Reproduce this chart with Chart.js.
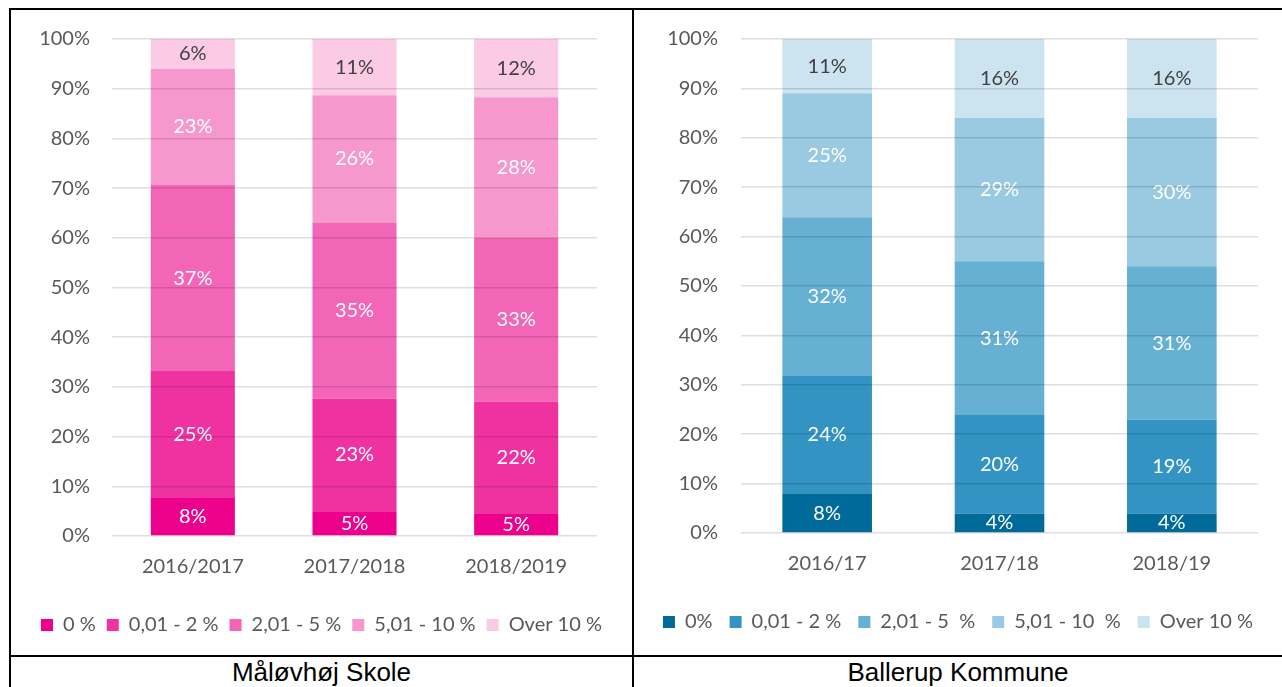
<!DOCTYPE html>
<html lang="da">
<head>
<meta charset="UTF-8">
<title>Fravær - Måløvhøj Skole og Ballerup Kommune</title>
<script src="https://cdn.jsdelivr.net/npm/chart.js"></script>
<style>
    body {
        margin: 0;
        width: 1282px;
        height: 687px;
        overflow: hidden;
        background: #fff;
        position: relative;
        font-family: "Liberation Sans", Arial, sans-serif;
    }
    .line {
        position: absolute;
        background: #000;
    }
    .box {
        position: absolute;
    }
    .caption {
        position: absolute;
        top: 657px;
        font-size: 26px;
        text-align: center;
        color: #000;
    }
</style>
</head>
<body>
<div class="line" style="left:9px; top:8px; width:1273px; height:2px;"></div>
<div class="line" style="left:9px; top:8px; width:2px; height:679px;"></div>
<div class="line" style="left:632px; top:8px; width:2px; height:679px;"></div>
<div class="line" style="left:9px; top:655px; width:1273px; height:2px;"></div>

<div class="box" style="left:11px; top:10px; width:621px; height:645px;"><canvas id="skole"></canvas></div>
<div class="box" style="left:634px; top:10px; width:648px; height:645px;"><canvas id="kommune"></canvas></div>

<div class="caption" style="left:11px; width:621px;">Måløvhøj Skole</div>
<div class="caption" style="left:634px; width:648px;">Ballerup Kommune</div>

<script>
// Måløvhøj Skole
const skoleYears = ['2016/2017', '2017/2018', '2018/2019'];
const skoleLabels = ['0 %', '0,01 - 2 %', '2,01 - 5 %', '5,01 - 10 %', 'Over 10 %'];
const skole0 = [7.8, 5.0, 4.6];
const skole2 = [25.4, 22.6, 22.4];
const skole5 = [37.4, 35.4, 33.0];
const skole10 = [23.4, 25.7, 28.3];
const skoleOver = [6.0, 11.3, 11.7];
const skoleColors = ['#ec008c', '#f032a1', '#f365b6', '#f698cd', '#fbcbe6'];

// Ballerup Kommune
const kommuneYears = ['2016/17', '2017/18', '2018/19'];
const kommuneLabels = ['0%', '0,01 - 2 %', '2,01 - 5  %', '5,01 - 10  %', 'Over 10 %'];
const kommune0 = [7.9, 3.9, 3.9];
const kommune2 = [23.9, 20.0, 19.0];
const kommune5 = [32.1, 31.1, 31.1];
const kommune10 = [25.1, 29.0, 30.0];
const kommuneOver = [11.0, 16.0, 16.0];
const kommuneColors = ['#006a9a', '#3394c3', '#66b0d3', '#99cae1', '#cce4ef'];

const yTicks = [0, 10, 20, 30, 40, 50, 60, 70, 80, 90, 100];

const FONT = 'Lato, "Open Sans", sans-serif';

// writes the rounded percent in the middle of every segment
const segmentLabels = {
    id: 'segmentLabels',
    afterDatasetsDraw(chart) {
        const ctx = chart.ctx;
        ctx.save();
        ctx.font = '20px ' + FONT;
        ctx.textAlign = 'center';
        ctx.textBaseline = 'middle';
        chart.data.datasets.forEach((ds, i) => {
            const meta = chart.getDatasetMeta(i);
            ctx.fillStyle = i === chart.data.datasets.length - 1 ? '#404040' : '#ffffff';
            meta.data.forEach((bar, j) => {
                const y = (bar.y + bar.base) / 2;
                ctx.fillText(Math.round(ds.data[j]) + '%', bar.x, y);
            });
        });
        ctx.restore();
    }
};

function makeChart(id, years, labels, series, colors, dims) {
    const datasets = series.map((values, i) => ({
        label: labels[i],
        data: values,
        backgroundColor: colors[i],
        borderWidth: 0,
        categoryPercentage: 1,
        barPercentage: 0.52
    }));
    return new Chart(document.getElementById(id), {
        type: 'bar',
        data: { labels: years, datasets: datasets },
        plugins: [segmentLabels],
        options: {
            responsive: true,
            maintainAspectRatio: false,
            animation: false,
            layout: { padding: { top: dims.top, right: 0, left: 0, bottom: dims.bottom } },
            plugins: {
                tooltip: { enabled: false },
                legend: {
                    position: 'bottom',
                    labels: {
                        boxWidth: 12,
                        boxHeight: 12,
                        padding: dims.legendPad,
                        color: '#595959',
                        font: { family: FONT, size: 20 }
                    }
                }
            },
            scales: {
                x: {
                    stacked: true,
                    grid: { display: false, drawTicks: false },
                    border: { display: false },
                    ticks: { color: '#595959', padding: dims.xPad, font: { family: FONT, size: 20 } },
                    afterFit: s => { s.height = dims.xHeight; }
                },
                y: {
                    stacked: true,
                    min: 0,
                    max: 100,
                    afterBuildTicks: s => { s.ticks = yTicks.map(v => ({ value: v })); },
                    grid: { color: 'rgba(0,0,0,0.13)', lineWidth: 1.5, drawTicks: false, z: 1 },
                    border: { display: false },
                    ticks: {
                        color: '#595959',
                        padding: dims.yPad,
                        font: { family: FONT, size: 20 },
                        callback: v => v + '%'
                    },
                    afterFit: s => {
                        s.width = dims.yWidth;
                        s.paddingTop = 0;
                        s.paddingBottom = 0;
                    }
                },
                // empty axis that only keeps a margin right of the plot, so the legend can use the full width
                yRight: {
                    position: 'right',
                    grid: { display: false, drawTicks: false },
                    border: { display: false },
                    ticks: { display: false },
                    afterFit: s => {
                        s.width = dims.right;
                        s.paddingTop = 0;
                        s.paddingBottom = 0;
                    }
                }
            }
        }
    });
}

makeChart('skole', skoleYears, skoleLabels,
    [skole0, skole2, skole5, skole10, skoleOver], skoleColors,
    { top: 29, right: 35, bottom: 10, legendPad: 11, xPad: 19, xHeight: 68, yPad: 22, yWidth: 101 });

makeChart('kommune', kommuneYears, kommuneLabels,
    [kommune0, kommune2, kommune5, kommune10, kommuneOver], kommuneColors,
    { top: 29, right: 24, bottom: 13, legendPad: 17, xPad: 19, xHeight: 62, yPad: 23, yWidth: 107 });
</script>
</body>
</html>
